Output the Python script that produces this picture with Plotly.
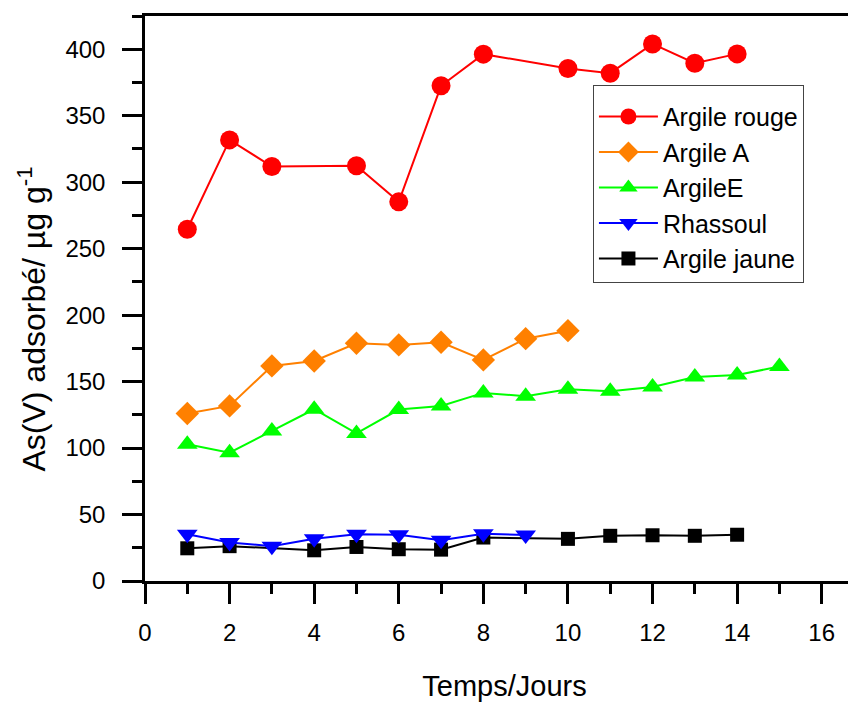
import plotly.graph_objects as go

# ---- data ----
days_rouge = [1, 2, 3, 5, 6, 7, 8, 10, 11, 12, 13, 14]
argile_rouge = [264.6, 331.8, 311.8, 312.3, 285.2, 372.5, 396.3, 385.5, 382.0, 404.0, 389.5, 396.5]

days_a = [1, 2, 3, 4, 5, 6, 7, 8, 9, 10]
argile_a = [126.0, 131.7, 161.8, 165.5, 178.8, 177.6, 179.6, 166.3, 182.3, 188.3]

days_e = [1, 2, 3, 4, 5, 6, 7, 8, 9, 10, 11, 12, 13, 14, 15]
argile_e = [102.9, 96.5, 112.9, 129.2, 111.0, 129.0, 131.7, 141.5, 139.0, 144.2, 142.8, 146.0, 153.4, 155.0, 161.3]

days_rh = [1, 2, 3, 4, 5, 6, 7, 8, 9]
rhassoul = [35.2, 29.0, 26.2, 31.7, 35.2, 34.8, 30.6, 35.6, 34.6]

days_j = [1, 2, 4, 5, 6, 7, 8, 10, 11, 12, 13, 14]
argile_jaune = [24.6, 26.2, 23.1, 25.6, 23.9, 23.6, 32.7, 31.7, 34.0, 34.4, 34.0, 34.8]

x_title = "Temps/Jours"
y_title = "As(V) adsorbé/ µg g<sup>-1</sup>"

FONT = "Liberation Sans, Arial, sans-serif"

fig = go.Figure()

# drawing order: black first, red last; legend order via legendrank
fig.add_trace(go.Scatter(x=days_j, y=argile_jaune, name="Argile jaune", mode="lines+markers",
                         line=dict(color="#000000", width=2),
                         marker=dict(symbol="square", size=14, color="#000000"), legendrank=5))
fig.add_trace(go.Scatter(x=days_rh, y=rhassoul, name="Rhassoul", mode="lines+markers",
                         line=dict(color="#0000FF", width=2),
                         marker=dict(symbol="triangle-down", size=18, color="#0000FF"), legendrank=4))
fig.add_trace(go.Scatter(x=days_e, y=argile_e, name="ArgileE", mode="lines+markers",
                         line=dict(color="#00FF00", width=2),
                         marker=dict(symbol="triangle-up", size=18, color="#00FF00"), legendrank=3))
fig.add_trace(go.Scatter(x=days_a, y=argile_a, name="Argile A", mode="lines+markers",
                         line=dict(color="#FF8000", width=2),
                         marker=dict(symbol="diamond", size=18, color="#FF8000"), legendrank=2))
fig.add_trace(go.Scatter(x=days_rouge, y=argile_rouge, name="Argile rouge", mode="lines+markers",
                         line=dict(color="#FF0000", width=2),
                         marker=dict(symbol="circle", size=19, color="#FF0000"), legendrank=1))

fig.update_layout(
    width=856, height=702,
    margin=dict(l=137, r=0, t=8, b=129),
    paper_bgcolor="white", plot_bgcolor="white",
    font=dict(family=FONT, color="black", size=22),
    showlegend=True,
    legend=dict(x=0.623, y=0.878, xanchor="left", yanchor="top",
                bordercolor="#444444", borderwidth=1, bgcolor="rgba(255,255,255,0)",
                font=dict(family=FONT, size=25, color="black"),
                title=dict(text=" ", font=dict(size=6)),
                itemwidth=59, tracegroupgap=0),
    xaxis=dict(range=[0, 17], showgrid=False, zeroline=False,
               showline=True, linecolor="black", linewidth=2.5, mirror=True,
               ticks="outside", ticklen=20, tickwidth=2.5, tickcolor="black",
               tick0=0, dtick=2, ticklabelstandoff=8,
               minor=dict(ticks="outside", ticklen=10, tickwidth=2.5, tickcolor="black", dtick=1, showgrid=False),
               tickfont=dict(size=24),
               title=dict(text=x_title, font=dict(size=29), standoff=32)),
    yaxis=dict(range=[0, 425], showgrid=False, zeroline=False,
               showline=True, linecolor="black", linewidth=2.5,
               ticks="outside", ticklen=20, tickwidth=2.5, tickcolor="black",
               tick0=0, dtick=50, ticklabelstandoff=12,
               minor=dict(ticks="outside", ticklen=10, tickwidth=2.5, tickcolor="black", dtick=25, showgrid=False),
               tickfont=dict(size=24)),
    annotations=[dict(text=y_title, textangle=-90, xref="paper", yref="paper",
                      x=-0.157, y=0.463, xanchor="center", yanchor="middle",
                      showarrow=False, font=dict(family=FONT, size=32, color="black"))],
)

fig.write_html("out.html")
